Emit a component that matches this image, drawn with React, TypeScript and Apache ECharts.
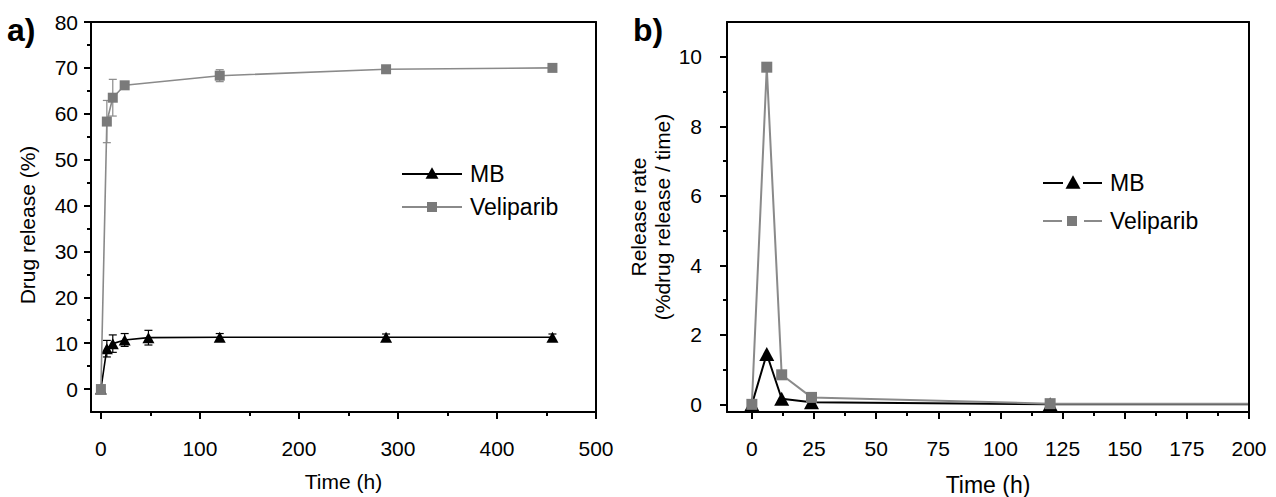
import React, { useEffect, useRef } from "react";
import * as echarts from "echarts";

// ---------- Data ----------
// Panel a: cumulative drug release (%)
const mbTimeA = [0, 6, 12, 24, 48, 120, 288, 456];
const mbRelease = [0, 8.8, 9.9, 10.7, 11.2, 11.3, 11.3, 11.3];
const mbReleaseErr = [0, 1.8, 1.9, 1.4, 1.6, 0.8, 0.7, 0.7];

const velTimeA = [0, 6, 12, 24, 120, 288, 456];
const velRelease = [0, 58.3, 63.5, 66.2, 68.3, 69.7, 70.0];
const velReleaseErr = [0, 4.6, 4.0, 0.6, 1.3, 0.7, 0.6];

// Panel b: release rate (%drug release / time)
const timeB = [0, 6, 12, 24, 120, 288, 456];
const mbRate = [0, 1.45, 0.16, 0.06, 0.003, 0, 0];
const velRate = [0, 9.7, 0.85, 0.2, 0.02, 0.008, 0.002];

// Tick values
const xTicksA = [0, 100, 200, 300, 400, 500];
const xMinorA = [50, 150, 250, 350, 450];
const yTicksA = [0, 10, 20, 30, 40, 50, 60, 70, 80];
const yMinorA = [5, 15, 25, 35, 45, 55, 65, 75];
const xTicksB = [0, 25, 50, 75, 100, 125, 150, 175, 200];
const xMinorB = [12.5, 37.5, 62.5, 87.5, 112.5, 137.5, 162.5, 187.5];
const yTicksB = [0, 2, 4, 6, 8, 10];
const yMinorB = [1, 3, 5, 7, 9];

const FONT = "Liberation Sans, Arial, sans-serif";
const BLACK = "#000000";
const GRAY_LINE = "#8a8a8a";
const GRAY_MARK = "#7a7a7a";

const pairs = (xs: number[], ys: number[]) => xs.map((x, i) => [x, ys[i]]);
const errRows = (xs: number[], ys: number[], es: number[]) =>
  xs.map((x, i) => [x, ys[i] - es[i], ys[i] + es[i]]);

function errorBarRender(color: string) {
  return (params: any, api: any) => {
    const x = api.value(0);
    const lo = api.value(1);
    const hi = api.value(2);
    if (hi - lo <= 0) return null;
    const pHi = api.coord([x, hi]);
    const pLo = api.coord([x, lo]);
    const w = 4;
    const style = { stroke: color, lineWidth: 1.2 };
    return {
      type: "group",
      children: [
        { type: "line", shape: { x1: pHi[0], y1: pHi[1], x2: pLo[0], y2: pLo[1] }, style },
        { type: "line", shape: { x1: pHi[0] - w, y1: pHi[1], x2: pHi[0] + w, y2: pHi[1] }, style },
        { type: "line", shape: { x1: pLo[0] - w, y1: pLo[1], x2: pLo[0] + w, y2: pLo[1] }, style },
      ],
    };
  };
}

function majorAxis(opts: any) {
  const { gridIndex, min, max, ticks, position, labelMargin, name, nameGap, nameSize, nameRotate, namePadding } = opts;
  return {
    type: "value",
    gridIndex,
    min,
    max,
    position,
    name,
    nameLocation: "middle",
    nameGap,
    nameRotate,
    nameTextStyle: {
      fontFamily: FONT,
      fontSize: nameSize,
      color: BLACK,
      lineHeight: nameSize + 3,
      padding: namePadding || 0,
    },
    axisLine: { show: true, onZero: false, lineStyle: { color: BLACK, width: 2, opacity: 1 } },
    axisTick: { show: true, inside: false, length: 7, customValues: ticks, lineStyle: { color: BLACK, width: 2 } },
    axisLabel: {
      show: true,
      customValues: ticks,
      margin: labelMargin,
      fontFamily: FONT,
      fontSize: 21,
      color: BLACK,
      showMinLabel: true,
      showMaxLabel: true,
    },
    splitLine: { show: false },
    minorTick: { show: false },
    z: 5,
  };
}

function minorAxis(opts: any) {
  const { gridIndex, min, max, ticks, position } = opts;
  return {
    type: "value",
    gridIndex,
    min,
    max,
    position,
    axisLine: { show: false, onZero: false },
    axisTick: { show: true, inside: false, length: 4, customValues: ticks, lineStyle: { color: BLACK, width: 2 } },
    axisLabel: { show: false },
    splitLine: { show: false },
  };
}

function frameAxis(gridIndex: number, min: number, max: number, position: string) {
  return {
    type: "value",
    gridIndex,
    min,
    max,
    position,
    axisLine: { show: true, onZero: false, lineStyle: { color: BLACK, width: 2, opacity: 1 } },
    axisTick: { show: false },
    axisLabel: { show: false },
    splitLine: { show: false },
    z: 5,
  };
}

function triPoints(cx: number, cy: number, s: number) {
  const h = s * 0.9;
  return [
    [cx, cy - h / 2],
    [cx + s / 2, cy + h / 2],
    [cx - s / 2, cy + h / 2],
  ];
}

export default function App() {
  const ref = useRef<HTMLDivElement>(null);

  useEffect(() => {
    document.body.style.margin = "0";
    if (!ref.current) return;
    const chart = echarts.init(ref.current, undefined, { renderer: "svg" });

    const gridA = { left: 91, top: 22, width: 505, height: 390 };
    const gridB = { left: 727, top: 22, width: 522, height: 390 };

    const option: any = {
      animation: false,
      backgroundColor: "#ffffff",
      textStyle: { fontFamily: FONT },
      grid: [
        { ...gridA, show: false, containLabel: false, outerBoundsMode: "none" },
        { ...gridB, show: false, containLabel: false, outerBoundsMode: "none" },
      ],
      xAxis: [
        majorAxis({ gridIndex: 0, min: -10, max: 500, ticks: xTicksA, position: "bottom", labelMargin: 26, name: "Time (h)", nameGap: 57, nameSize: 21 }),
        minorAxis({ gridIndex: 0, min: -10, max: 500, ticks: xMinorA, position: "bottom" }),
        majorAxis({ gridIndex: 1, min: -10, max: 200, ticks: xTicksB, position: "bottom", labelMargin: 26, name: "Time (h)", nameGap: 60, nameSize: 23 }),
        minorAxis({ gridIndex: 1, min: -10, max: 200, ticks: xMinorB, position: "bottom" }),
        frameAxis(0, -10, 500, "top"),
        frameAxis(1, -10, 200, "top"),
      ],
      yAxis: [
        majorAxis({ gridIndex: 0, min: -5, max: 80, ticks: yTicksA, position: "left", labelMargin: 13, name: "Drug release (%)", nameGap: 52, nameSize: 21, nameRotate: 90, namePadding: [0, 16, 0, 0] }),
        minorAxis({ gridIndex: 0, min: -5, max: 80, ticks: yMinorA, position: "left" }),
        majorAxis({ gridIndex: 1, min: -0.22, max: 11, ticks: yTicksB, position: "left", labelMargin: 25, name: "Release rate\n(%drug release / time)", nameGap: 47, nameSize: 21, nameRotate: 90 }),
        minorAxis({ gridIndex: 1, min: -0.22, max: 11, ticks: yMinorB, position: "left" }),
        frameAxis(0, -5, 80, "right"),
        frameAxis(1, -0.22, 11, "right"),
      ],
      series: [
        // Panel a error bars
        {
          type: "custom",
          name: "MB error",
          xAxisIndex: 0,
          yAxisIndex: 0,
          renderItem: errorBarRender(BLACK),
          encode: { x: 0, y: [1, 2] },
          data: errRows(mbTimeA, mbRelease, mbReleaseErr),
          z: 1,
          silent: true,
        },
        {
          type: "custom",
          name: "Veliparib error",
          xAxisIndex: 0,
          yAxisIndex: 0,
          renderItem: errorBarRender(GRAY_LINE),
          encode: { x: 0, y: [1, 2] },
          data: errRows(velTimeA, velRelease, velReleaseErr),
          z: 1,
          silent: true,
        },
        // Panel a lines
        {
          type: "line",
          name: "MB",
          xAxisIndex: 0,
          yAxisIndex: 0,
          data: pairs(mbTimeA, mbRelease),
          symbol: "triangle",
          symbolSize: [12, 11],
          showAllSymbol: true,
          lineStyle: { color: BLACK, width: 1.6 },
          itemStyle: { color: BLACK },
          z: 2,
        },
        {
          type: "line",
          name: "Veliparib",
          xAxisIndex: 0,
          yAxisIndex: 0,
          data: pairs(velTimeA, velRelease),
          symbol: "rect",
          symbolSize: 10,
          showAllSymbol: true,
          lineStyle: { color: GRAY_LINE, width: 1.6 },
          itemStyle: { color: GRAY_MARK },
          z: 3,
        },
        // Panel b lines
        {
          type: "line",
          name: "MB",
          xAxisIndex: 2,
          yAxisIndex: 2,
          data: pairs(timeB, mbRate),
          symbol: "triangle",
          symbolSize: [15, 14],
          showAllSymbol: true,
          lineStyle: { color: BLACK, width: 2 },
          itemStyle: { color: BLACK },
          z: 2,
        },
        {
          type: "line",
          name: "Veliparib",
          xAxisIndex: 2,
          yAxisIndex: 2,
          data: pairs(timeB, velRate),
          symbol: "rect",
          symbolSize: 11,
          showAllSymbol: true,
          lineStyle: { color: GRAY_LINE, width: 2 },
          itemStyle: { color: GRAY_MARK },
          z: 3,
        },
      ],
      graphic: [
        // Panel labels
        { type: "text", left: 7, top: 14, style: { text: "a)", font: `bold 32px ${FONT}`, fill: BLACK } },
        { type: "text", left: 633, top: 14, style: { text: "b)", font: `bold 32px ${FONT}`, fill: BLACK } },
        // Panel a legend
        { type: "line", shape: { x1: 402, y1: 174, x2: 462, y2: 174 }, style: { stroke: BLACK, lineWidth: 1.8 } },
        { type: "polygon", shape: { points: triPoints(432, 173, 13) }, style: { fill: BLACK } },
        { type: "text", x: 470, y: 174, style: { text: "MB", font: `23px ${FONT}`, fill: BLACK, verticalAlign: "middle" } },
        { type: "line", shape: { x1: 402, y1: 207, x2: 462, y2: 207 }, style: { stroke: GRAY_LINE, lineWidth: 1.8 } },
        { type: "rect", shape: { x: 427, y: 202, width: 10, height: 10 }, style: { fill: GRAY_MARK } },
        { type: "text", x: 470, y: 207, style: { text: "Veliparib", font: `23px ${FONT}`, fill: BLACK, verticalAlign: "middle" } },
        // Panel b legend
        { type: "line", shape: { x1: 1043, y1: 183, x2: 1063, y2: 183 }, style: { stroke: BLACK, lineWidth: 2 } },
        { type: "polygon", shape: { points: triPoints(1073, 182, 15) }, style: { fill: BLACK } },
        { type: "line", shape: { x1: 1083, y1: 183, x2: 1102, y2: 183 }, style: { stroke: BLACK, lineWidth: 2 } },
        { type: "text", x: 1110, y: 183, style: { text: "MB", font: `23px ${FONT}`, fill: BLACK, verticalAlign: "middle" } },
        { type: "line", shape: { x1: 1043, y1: 221, x2: 1062, y2: 221 }, style: { stroke: GRAY_LINE, lineWidth: 2 } },
        { type: "rect", shape: { x: 1067, y: 216, width: 10, height: 10 }, style: { fill: GRAY_MARK } },
        { type: "line", shape: { x1: 1084, y1: 221, x2: 1102, y2: 221 }, style: { stroke: GRAY_LINE, lineWidth: 2 } },
        { type: "text", x: 1110, y: 221, style: { text: "Veliparib", font: `23px ${FONT}`, fill: BLACK, verticalAlign: "middle" } },
      ],
    };

    chart.setOption(option);
    return () => {
      chart.dispose();
    };
  }, []);

  return <div ref={ref} style={{ width: 1276, height: 497 }} />;
}
